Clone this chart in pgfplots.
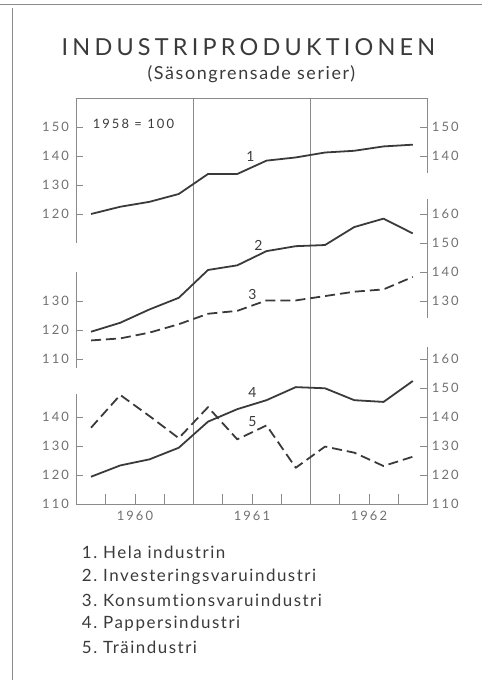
\documentclass[border=0pt]{standalone}
\usepackage{fontspec}
\setmainfont{Lato}[Ligatures=NoCommon]
\newfontfamily\titlefont[LetterSpace=18,Ligatures=NoCommon]{Lato}
\newfontfamily\tickfont[LetterSpace=16]{Lato}
\newfontfamily\subfont[LetterSpace=9,Ligatures=NoCommon]{Lato}
\newfontfamily\legfont[LetterSpace=9,Ligatures=NoCommon]{Lato}
\usepackage{pgfplots}
\usepackage{pgfplotstable}
\pgfplotsset{compat=1.18}
\definecolor{ink}{HTML}{3A3A3A}
\definecolor{tk}{HTML}{707070}
\definecolor{fr}{HTML}{8A8A8A}

\tikzset{frl/.style={draw=fr, line width=0.7pt}}
\pgfplotsset{
  panel/.style={
    at={(76bp,180bp)}, anchor=south west, scale only axis, width=351bp, height=406bp,
    xmin=0, xmax=12, axis line style={draw=none}, tick align=inside,
    major tick length=7bp, tick style={draw=fr, line width=0.6pt},
    xtick=\empty, clip=false,
    /pgf/number format/assume math mode=true,
    ticklabel style={font=\tickfont\fontsize{13}{15}\selectfont, text=tk},
  },
  L/.style={ytick pos=left, yticklabel pos=left, yticklabel style={xshift=-4bp}},
  R/.style={ytick pos=right, yticklabel pos=right, yticklabel style={xshift=1bp}},
  ser/.style={ink, line width=1.8pt, line join=round, no marks},
  dsh/.style={ser, dash pattern=on 10bp off 5bp},
}

\pgfplotstableread{
x s1 s2 s3 s4 s5
0.5 120.0 119.4 116.4 119.4 136.3
1.5 122.5 122.5 117.1 123.3 147.6
2.5 124.2 127.1 119.1 125.4 140.3
3.5 126.9 131.1 122.0 129.4 132.7
4.5 133.8 140.7 125.6 138.4 143.4
5.5 133.8 142.3 126.6 142.7 132.3
6.5 138.4 147.2 130.2 145.8 137.1
7.5 139.5 148.9 130.2 150.3 122.5
8.5 141.2 149.3 131.7 149.9 129.8
9.5 141.8 155.5 133.2 145.8 127.7
10.5 143.3 158.4 134.0 145.2 123.1
11.5 143.9 153.3 138.3 152.4 126.3
}\data

\begin{document}
\begin{tikzpicture}
\path (0,0) rectangle (482bp,684bp);
\draw[fr, line width=0.8pt] (0,680bp) -- (482bp,680bp);
\draw[fr, line width=0.8pt] (11.7bp,676bp) -- (11.7bp,4bp);
\node[text=ink] at (248bp,637.3bp) {\titlefont\fontsize{23.5}{26}\selectfont INDUSTRIPRODUKTIONEN};
\node[text=ink] at (251bp,610bp) {\subfont\fontsize{18}{20}\selectfont (Säsongrensade serier)};

% panel 3 (series 4, 5) -- left scale + x axis
\begin{axis}[panel, L, ymin=110, ymax=250, ytick={110,120,130,140},
  xtick={1,2,3,5,6,7,9,10,11}, xticklabels={,1960,,,1961,,,1962,}, xtick pos=bottom,
  xtick style={/pgfplots/major tick length=10bp},
  xticklabel style={yshift=-4bp},
  extra x ticks={4,8}, extra x tick labels={},
  extra x tick style={grid=major, major grid style={draw=fr, line width=0.6pt}}]
\addplot[ser] table[x=x,y=s4]{\data};
\addplot[dsh] table[x=x,y=s5]{\data};
\draw[frl] (axis cs:0,148) -- (axis cs:0,110) -- (axis cs:12,110) -- (axis cs:12,164);
\node[text=ink, font=\fontsize{14}{16}\selectfont] at (axis cs:6.02,148.3) {4};
\node[text=ink, font=\fontsize{14}{16}\selectfont] at (axis cs:6.02,138.3) {5};
\end{axis}
% panel 3 right scale
\begin{axis}[panel, R, ymin=110, ymax=250, ytick={110,120,130,140,150,160}]
\end{axis}

% panel 2 (series 2, 3)
\begin{axis}[panel, L, ymin=60, ymax=200, ytick={110,120,130}]
\addplot[ser] table[x=x,y=s2]{\data};
\addplot[dsh] table[x=x,y=s3]{\data};
\draw[frl] (axis cs:0,140) -- (axis cs:0,107);
\draw[frl] (axis cs:12,165) -- (axis cs:12,124);
\node[text=ink, font=\fontsize{14}{16}\selectfont] at (axis cs:6.22,149) {2};
\node[text=ink, font=\fontsize{14}{16}\selectfont] at (axis cs:6.02,132.1) {3};
\end{axis}
\begin{axis}[panel, R, ymin=60, ymax=200, ytick={130,140,150,160}]
\end{axis}

% panel 1 (series 1)
\begin{axis}[panel, L, ymin=20, ymax=160, ytick={120,130,140,150}]
\addplot[ser] table[x=x,y=s1]{\data};
\draw[frl] (axis cs:0,110) -- (axis cs:0,160) -- (axis cs:12,160) -- (axis cs:12,134);
\node[text=ink, font=\fontsize{14}{16}\selectfont] at (axis cs:5.95,139.8) {1};
\node[text=ink, font=\tickfont\fontsize{13}{15}\selectfont] at (axis cs:1.95,151.1) {1958 = 100};
\end{axis}
\begin{axis}[panel, R, ymin=20, ymax=160, ytick={140,150}]
\end{axis}

% legend list
\begin{scope}[every node/.style={anchor=west, text=ink, font=\legfont\fontsize{17}{20}\selectfont}]
\node at (78bp,131.3bp) {1.\ Hela industrin};
\node at (78bp,107.3bp) {2.\ Investeringsvaruindustri};
\node at (78bp,83.3bp) {3.\ Konsumtionsvaruindustri};
\node at (78bp,60.3bp) {4.\ Pappersindustri};
\node at (78bp,37bp) {5.\ Träindustri};
\end{scope}
\end{tikzpicture}
\end{document}
